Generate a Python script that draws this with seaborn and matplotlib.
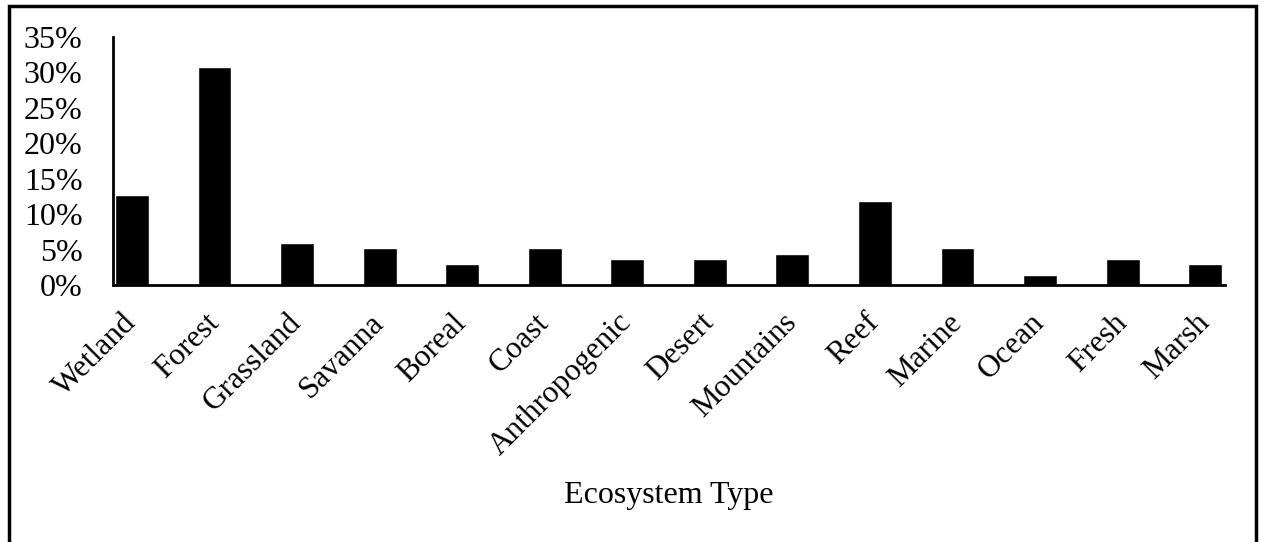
import matplotlib
matplotlib.use('Agg')
import matplotlib.pyplot as plt
import seaborn as sns
import pandas as pd
from matplotlib.patches import Rectangle
from matplotlib.ticker import FuncFormatter

ecosystems = ['Wetland', 'Forest', 'Grassland', 'Savanna', 'Boreal', 'Coast', 'Anthropogenic',
              'Desert', 'Mountains', 'Reef', 'Marine', 'Ocean', 'Fresh', 'Marsh']
share = [12.7, 30.7, 5.9, 5.2, 2.9, 5.2, 3.6, 3.6, 4.4, 11.9, 5.2, 1.4, 3.6, 2.9]
y_ticks = [0, 5, 10, 15, 20, 25, 30, 35]

df = pd.DataFrame({'Ecosystem Type': ecosystems, 'Share': share})

sns.set_style('white')
plt.rcParams['font.family'] = ['Liberation Serif', 'DejaVu Serif']
plt.rcParams['text.color'] = 'black'
plt.rcParams['xtick.color'] = 'black'
plt.rcParams['ytick.color'] = 'black'
plt.rcParams['axes.labelcolor'] = 'black'

fig = plt.figure(figsize=(12.62, 5.42), dpi=100)
ax = fig.add_axes([113 / 1262, 1 - 285 / 542, 1112 / 1262, 248 / 542])

sns.barplot(data=df, x='Ecosystem Type', y='Share', color='black', saturation=1,
            width=0.41, ax=ax)

ax.set_xlim(-0.23, 13.24)
ax.set_ylim(0, 35)
ax.set_yticks(y_ticks)
ax.yaxis.set_major_formatter(FuncFormatter(lambda v, p: f'{v:.0f}%'))
ax.tick_params(axis='y', length=0, pad=22, labelsize=23)
ax.tick_params(axis='x', length=0, pad=24, labelsize=22.5)
for lbl in ax.get_xticklabels():
    lbl.set_rotation(45)
    lbl.set_ha('right')
    lbl.set_va('center')
    lbl.set_rotation_mode('anchor')

ax.set_ylabel('')
ax.set_xlabel('Ecosystem Type', fontsize=23, labelpad=14)

for side in ['top', 'right']:
    ax.spines[side].set_visible(False)
for side in ['left', 'bottom']:
    ax.spines[side].set_linewidth(2)
    ax.spines[side].set_color('black')

# frame around the whole chart
fig.patches.append(Rectangle((9 / 1262, -0.02), (1256 - 9) / 1262, (542 - 6) / 542 + 0.02,
                             transform=fig.transFigure, fill=False, edgecolor='black',
                             linewidth=2.5))

fig.savefig('out.png', dpi=100)
